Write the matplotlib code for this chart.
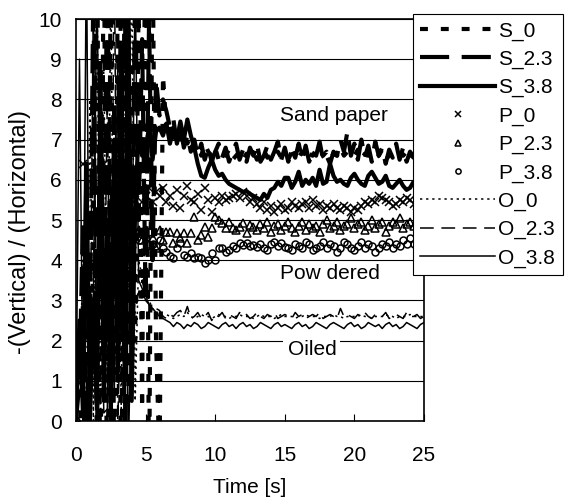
import numpy as np
import matplotlib
matplotlib.use('Agg')
import matplotlib.pyplot as plt

plt.rcParams['font.family'] = ['Liberation Sans', 'DejaVu Sans']
plt.rcParams['font.size'] = 15

# sampling times [s], one every 0.25 s
time = np.arange(101) * 0.25

# sand paper
s_0 = [0, -1, 3, -2, 1, 4, 14, -3, 13, -4,
       12, -2, 11, -3, 12, 0.5, 9, 2, 10.5, 0.3,
       14, -2, 12, 2, -1,
       8.6, 7.2, 7.4, 6.9, 7.3,
       7.0, 7.2, 6.9, 7.1, 6.8, 6.9, 6.6, 6.9, 6.7, 6.6,
       6.8, 6.5, 6.7, 6.6, 6.75, 6.5, 6.6, 6.7, 6.5, 6.65,
       6.55, 6.7, 6.5, 6.6, 6.75, 6.55, 6.6, 6.5, 6.7, 6.55,
       6.65, 6.5, 6.7, 6.6, 6.55, 6.7, 6.5, 6.65, 6.6, 6.75,
       6.55, 6.6, 6.7, 6.5, 6.65, 6.6, 6.8, 6.6, 6.7, 6.55,
       6.6, 6.75, 6.5, 6.65, 6.6, 6.7, 6.55, 6.6, 6.75, 6.5,
       6.6, 6.7, 6.55, 6.65, 6.6, 6.7, 6.5, 6.65, 6.6, 6.7,
       6.55]
s_23 = [0, 1, 5, 0, 2, 11, -1, 9, 2, 12,
        0, 8, 1, 12, -1, 10, 3, 11, 5, 9.5,
        3, 10, 4, 8.5, 7.6,
        8.0, 7.7, 7.3, 7.5, 6.9,
        7.3, 6.8, 7.1, 6.7, 7.0, 6.6, 6.9, 6.5, 6.8, 6.45,
        6.7, 6.9, 6.55, 6.8, 6.45, 6.7, 6.9, 6.5, 6.75, 6.45,
        6.8, 6.6, 6.9, 6.45, 6.6, 6.85, 6.5, 6.7, 6.95, 6.5,
        6.8, 6.45, 6.75, 6.55, 6.9, 6.5, 6.85, 6.45, 6.7, 6.6,
        6.95, 6.5, 6.6, 6.4, 6.7, 6.6, 7.0, 6.7, 7.2, 6.6,
        6.9, 6.5, 7.0, 6.55, 6.85, 6.45, 6.95, 6.6, 6.8, 6.4,
        6.75, 6.55, 6.9, 6.5, 6.8, 6.45, 6.7, 6.55, 6.85, 6.5,
        6.6]
s_38 = [0, 2.5, 0.2, 6.4, 0, 3, 0.3, 8, 0.5, 5,
        0.2, 7, 2, 9, 1, 11, 0.5, 5.3, 7.2, 6.6,
        6.8, 7.3, 6.5, 7.2, 7.3,
        7.1, 7.4, 6.9, 7.3, 7.0,
        7.45, 7.0, 7.5, 7.1, 6.8, 6.4, 6.1, 6.05, 6.3, 6.5,
        6.25, 6.1, 6.15, 6.0, 5.9, 5.85, 5.8, 5.75, 5.7, 5.72,
        5.65, 5.6, 5.55, 5.5, 5.65, 5.55, 5.75, 5.8, 5.95, 5.85,
        6.05, 6.05, 5.8, 5.95, 6.2, 5.85, 6.0, 5.9, 6.05, 5.85,
        6.25, 5.9, 5.95, 6.4, 6.1, 5.95, 6.0, 5.9, 5.85, 6.05,
        6.15, 6.0, 5.9, 5.85, 6.1, 6.2, 6.05, 5.9, 5.95, 6.1,
        5.85, 5.8, 5.9, 6.0, 5.85, 5.75, 5.8, 5.95, 5.75, 5.8,
        5.75]

# powdered
p_0 = [0, -1, 6.4, 11, -2, 12, -1, 13, 6.4, 8.8,
       12, -2, 13, 7.3, -1, 5.45, 5.6, 5.5, 5.75, 5.45,
       5.6, 5.8, 5.45, 5.7, 5.6,
       5.8, 5.45, 5.6, 5.35, 5.75,
       5.3, 5.6, 5.85, 5.5, 5.45, 5.65, 5.25, 5.8, 5.5, 5.2,
       5.55, 5.45, 5.6, 5.5, 5.55, 5.6, 5.65, 5.55, 5.7, 5.6,
       5.45, 5.55, 5.4, 5.3, 5.45, 5.25, 5.35, 5.2, 5.3, 5.4,
       5.25, 5.3, 5.45, 5.35, 5.3, 5.4, 5.45, 5.3, 5.5, 5.35,
       5.4, 5.25, 5.35, 5.3, 5.4, 5.3, 5.25, 5.35, 5.3, 5.2,
       5.3, 5.25, 5.35, 5.45, 5.4, 5.5, 5.45, 5.6, 5.55, 5.5,
       5.45, 5.35, 5.4, 5.5, 5.45, 5.55, 5.5, 5.4, 5.35, 5.45,
       5.4]
p_23 = [0, 11, -1, 12, -2, 11, -1, 13, -2, 12,
        -1, 11, 6.0, 5.25, 12, 5.3, 4.4, 4.6, 4.75, 4.5,
        4.65, 4.4, 4.55, 4.3, 4.75,
        4.5, 4.7, 4.7, 4.42, 4.67,
        4.55, 4.67, 4.42, 4.67, 5.07, 4.5, 4.62, 4.83, 4.58, 4.8,
        5.07, 5.0, 4.92, 4.8, 4.95, 4.8, 4.75, 4.83, 4.92, 4.67,
        4.87, 4.83, 4.75, 4.9, 4.8, 4.95, 4.7, 4.85, 4.9, 4.75,
        4.85, 4.95, 4.8, 4.7, 4.85, 4.95, 4.75, 4.9, 4.8, 4.85,
        4.7, 4.9, 5.0, 4.8, 4.85, 4.95, 4.75, 4.85, 4.9, 5.05,
        4.8, 4.9, 4.95, 4.75, 4.85, 5.0, 4.8, 4.9, 4.95, 4.7,
        4.85, 4.95, 4.9, 5.05, 4.8, 4.9, 4.95, 4.85, 5.0, 4.9,
        4.95]
p_38 = [0, -1, 12, -1, 11, -2, 12, -1, 13, -1,
        11, -2, 12, -1, 7.2, 4.0, 4.6, 4.7, 4.5, 4.65,
        4.55, 4.7, 4.4, 4.35, 4.5,
        4.3, 4.2, 4.1, 4.05, 4.3,
        4.42, 4.13, 4.08, 4.17, 4.05, 4.08, 4.05, 3.93, 4.0, 4.17,
        4.0, 4.3, 4.3, 4.2, 4.25, 4.35, 4.3, 4.42, 4.38, 4.42,
        4.35, 4.38, 4.33, 4.4, 4.3, 4.25, 4.4, 4.45, 4.35, 4.42,
        4.33, 4.3, 4.25, 4.4, 4.35, 4.3, 4.45, 4.4, 4.25, 4.3,
        4.35, 4.45, 4.3, 4.4, 4.35, 4.2, 4.3, 4.45, 4.4, 4.3,
        4.25, 4.35, 4.45, 4.3, 4.4, 4.35, 4.2, 4.3, 4.4, 4.35,
        4.45, 4.3, 4.4, 4.35, 4.5, 4.4, 4.55, 4.4, 4.6, 4.45,
        4.5]

# oiled
o_0 = [0, 1, 4, 0.5, 8, 0, 12, -1, 9, 0.5,
       11, 1, 7, 0.3, 10, 3, 12, 0.5, 4, 3.6,
       3.2, 3.0, 2.8, 2.7, 2.65,
       2.6, 2.65, 2.6, 2.55, 2.6,
       2.65, 2.6, 2.7, 2.6, 2.55, 2.6, 2.65, 2.6, 2.6, 2.55,
       2.6, 2.65, 2.6, 2.6, 2.55, 2.6, 2.6, 2.65, 2.6, 2.6,
       2.6, 2.55, 2.6, 2.65, 2.6, 2.6, 2.6, 2.55, 2.6, 2.65,
       2.6, 2.6, 2.6, 2.55, 2.6, 2.6, 2.65, 2.6, 2.6, 2.6,
       2.55, 2.6, 2.6, 2.6, 2.65, 2.6, 2.6, 2.55, 2.6, 2.6,
       2.6, 2.6, 2.65, 2.6, 2.6, 2.55, 2.6, 2.6, 2.6, 2.65,
       2.6, 2.6, 2.55, 2.6, 2.6, 2.6, 2.65, 2.6, 2.6, 2.6,
       2.6]
o_23 = [0, 2, 0, 6, 1, 10.5, 0, 5, 1.5, 8,
        0.4, 12, 0, 3, 11, 2.2, 2.4, 2.7, 3.2, 3.5,
        3.1, 2.9, 2.7, 2.8, 2.75,
        2.6, 2.55, 2.65, 2.6, 2.7,
        2.75, 2.6, 2.85, 2.55, 2.6, 2.7, 2.55, 2.6, 2.7, 2.5,
        2.65, 2.6, 2.7, 2.55, 2.65, 2.6, 2.55, 2.7, 2.6, 2.65,
        2.55, 2.6, 2.7, 2.6, 2.55, 2.65, 2.6, 2.7, 2.55, 2.6,
        2.65, 2.6, 2.55, 2.7, 2.6, 2.65, 2.55, 2.6, 2.65, 2.6,
        2.7, 2.55, 2.6, 2.65, 2.6, 2.55, 2.8, 2.6, 2.65, 2.6,
        2.55, 2.65, 2.6, 2.7, 2.6, 2.55, 2.65, 2.6, 2.6, 2.7,
        2.55, 2.6, 2.65, 2.6, 2.55, 2.7, 2.6, 2.6, 2.65, 2.55,
        2.6]
o_38 = [0, 9, 0.5, 12, -1, 3, 11, 4, 0.2, 0.3,
        6, 0.5, 9, 2, 12, -1, 3.3, 11, 3.5, 3.3,
        3.0, 2.9, 2.8, 2.7, 2.6,
        2.55, 2.5, 2.45, 2.35, 2.45,
        2.4, 2.3, 2.4, 2.35, 2.45, 2.4, 2.3, 2.35, 2.45, 2.4,
        2.35, 2.3, 2.4, 2.45, 2.35, 2.4, 2.3, 2.4, 2.45, 2.35,
        2.4, 2.3, 2.35, 2.45, 2.4, 2.35, 2.3, 2.4, 2.45, 2.35,
        2.4, 2.35, 2.3, 2.4, 2.45, 2.35, 2.4, 2.3, 2.35, 2.45,
        2.4, 2.35, 2.3, 2.4, 2.45, 2.4, 2.35, 2.3, 2.4, 2.45,
        2.35, 2.4, 2.3, 2.35, 2.45, 2.4, 2.35, 2.4, 2.3, 2.4,
        2.45, 2.35, 2.4, 2.3, 2.35, 2.45, 2.4, 2.35, 2.3, 2.4,
        2.45]

fig = plt.figure(figsize=(5.65, 4.99), dpi=100)
ax = fig.add_axes([0.1345, 0.1563, 0.6159, 0.8056])

ax.plot(time, s_0, color='k', lw=3, dashes=(1.9, 3.1), label='S_0')
ax.plot(time, s_23, color='k', lw=3, dashes=(7, 3), label='S_2.3')
ax.plot(time, s_38, color='k', lw=3, label='S_3.8')
ax.plot(time, p_0, ls='none', marker='x', ms=5.5, mew=1.1, color='k', label='P_0')
ax.plot(time, p_23, ls='none', marker='^', ms=5.5, mew=1.1, mec='k', mfc='none', label='P_2.3')
ax.plot(time, p_38, ls='none', marker='o', ms=5, mew=1.1, mec='k', mfc='none', label='P_3.8')
ax.plot(time, o_0, color='k', lw=1.1, dashes=(1.5, 2.5), label='O_0')
ax.plot(time, o_23, color='k', lw=1.1, dashes=(9, 5), label='O_2.3')
ax.plot(time, o_38, color='k', lw=1.1, label='O_3.8')

ax.set_xlim(0, 25)
ax.set_ylim(0, 10)
ax.set_xticks(range(0, 26, 5))
ax.set_yticks(range(0, 11))
ax.yaxis.grid(True, color='k', lw=0.8)
ax.set_axisbelow(True)
for sp in ax.spines.values():
    sp.set_color('k')
    sp.set_linewidth(1.2)
ax.tick_params(axis='x', direction='in', length=5, pad=18, labelsize=15)
ax.tick_params(axis='y', length=0, pad=10, labelsize=15)
ax.set_xlabel('Time [s]', fontsize=15, labelpad=9)
ax.set_ylabel('-(Vertical) / (Horizontal)', fontsize=17, labelpad=4)
ax.yaxis.set_label_coords(-0.13, 0.47)

ax.text(14.65, 7.59, 'Sand paper', ha='left', va='center', fontsize=15)
ax.text(14.65, 3.68, 'Pow dered', ha='left', va='center', fontsize=15)
ax.text(15.2, 1.79, 'Oiled', ha='left', va='center', fontsize=15,
        bbox=dict(facecolor='white', edgecolor='none', pad=3))

leg = ax.legend(loc='upper left', bbox_to_anchor=(413 / 565, 1 - 14 / 499),
                bbox_transform=fig.transFigure, borderaxespad=0, borderpad=0.35,
                handlelength=3.6, handletextpad=0.15, labelspacing=0.44,
                markerscale=0.75, fancybox=False, framealpha=1, fontsize=15)
leg.get_frame().set_edgecolor('k')
leg.get_frame().set_linewidth(0.8)

fig.savefig('out.png', dpi=100)
